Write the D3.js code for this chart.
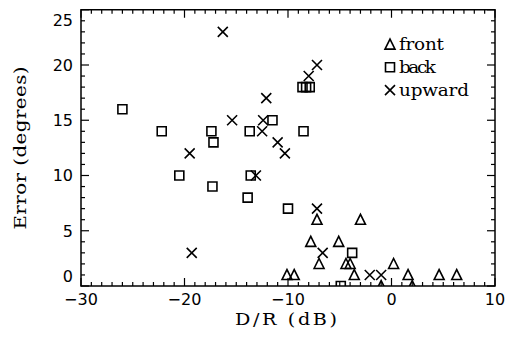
<!DOCTYPE html>
<html>
<head>
<meta charset="utf-8">
<script src="https://cdn.jsdelivr.net/npm/d3@7"></script>
<style>
  body { margin: 0; background: #fff; }
  svg { display: block; }
</style>
</head>
<body>
<svg width="523" height="347"></svg>
<script>
// values: [D/R dB, error degrees]
const front = [
  [-10.1, 1], [-9.4, 1], [-7.2, 6], [-7.8, 4], [-5.1, 4], [-3.0, 6],
  [-7.0, 2], [-4.4, 2], [-4.0, 2], [-3.6, 1], [0.2, 2], [1.6, 1],
  [4.6, 1], [6.3, 1], [-1.0, 0], [2.0, 0]
];
const back = [
  [-26, 16], [-22.2, 14], [-17.4, 14], [-17.2, 13], [-13.7, 14], [-11.5, 15],
  [-8.6, 18], [-8.25, 18], [-7.9, 18], [-8.5, 14], [-20.5, 10], [-17.3, 9],
  [-13.9, 8], [-13.6, 10], [-10.0, 7], [-3.8, 3], [-4.9, 0]
];
const upward = [
  [-16.3, 23], [-7.2, 20], [-8.0, 19], [-12.1, 17], [-15.4, 15], [-12.4, 15],
  [-12.5, 14], [-11.0, 13], [-19.5, 12], [-10.3, 12], [-13.1, 10], [-7.2, 7],
  [-6.65, 3], [-19.3, 3], [-2.1, 1], [-1.0, 1]
];
const legendLabels = ["front", "back", "upward"];
const xTicks = [-30, -20, -10, 0, 10];
const yTicks = [0, 5, 10, 15, 20, 25];

const svg = d3.select("svg");
const pLeft = 81, pRight = 495, pTop = 9.75, pBottom = 286;

const x = d3.scaleLinear().domain([-30, 10]).range([pLeft, pRight]);
const y = d3.scaleLinear().domain([0, 25]).range([pBottom, pTop]);

// symbol paths (centre at 0,0)
const sym = {
  front: "M-5,4.6L0,-5.4L5,4.6Z",
  back: "M-4.5,-4.5H4.5V4.5H-4.5Z",
  upward: "M-5,-5L5,5M-5,5L5,-5"
};

svg.append("clipPath").attr("id", "clip")
  .append("rect")
  .attr("x", pLeft).attr("y", pTop)
  .attr("width", pRight - pLeft).attr("height", pBottom - pTop);

// minor + major ticks, inward on all four sides
const ticks = svg.append("g").attr("stroke", "#000").attr("stroke-width", 1.2);
d3.range(-30, 11, 1).forEach(v => {
  const len = v % 10 === 0 ? 8 : 4;
  ticks.append("line").attr("x1", x(v)).attr("x2", x(v)).attr("y1", pBottom).attr("y2", pBottom - len);
  ticks.append("line").attr("x1", x(v)).attr("x2", x(v)).attr("y1", pTop).attr("y2", pTop + len);
});
d3.range(0, 26, 1).forEach(v => {
  const len = v % 5 === 0 ? 8 : 4;
  ticks.append("line").attr("y1", y(v)).attr("y2", y(v)).attr("x1", pLeft).attr("x2", pLeft + len);
  ticks.append("line").attr("y1", y(v)).attr("y2", y(v)).attr("x1", pRight).attr("x2", pRight - len);
});

svg.append("rect")
  .attr("x", pLeft).attr("y", pTop)
  .attr("width", pRight - pLeft).attr("height", pBottom - pTop)
  .attr("fill", "none").attr("stroke", "#000").attr("stroke-width", 1.5);

// tick labels
svg.append("g").selectAll("text")
  .data(xTicks).enter().append("text")
  .attr("x", d => x(d))
  .attr("y", 305)
  .attr("text-anchor", "middle")
  .style("font-family", "DejaVu Sans")
  .style("font-size", "16px")
  .text(d => d < 0 ? "\u2212" + Math.abs(d) : d);

svg.append("g").selectAll("text")
  .data(yTicks).enter().append("text")
  .attr("x", 73)
  .attr("y", d => y(d) + (d === 25 ? 10 : d === 0 ? -10 : 0))
  .attr("dy", "0.36em")
  .attr("text-anchor", "end")
  .style("font-family", "DejaVu Sans")
  .style("font-size", "16px")
  .text(d => d);

// axis titles (wide serif, like the original plotting font)
svg.append("text")
  .attr("transform", "translate(286,325) scale(1.2,1)")
  .attr("text-anchor", "middle")
  .attr("textLength", 85).attr("lengthAdjust", "spacing")
  .style("font-family", "DejaVu Serif")
  .style("font-size", "16px")
  .text("D/R (dB)");

svg.append("text")
  .attr("transform", "translate(26,148) rotate(-90) scale(1.2,1)")
  .attr("text-anchor", "middle")
  .attr("textLength", 136).attr("lengthAdjust", "spacing")
  .style("font-family", "DejaVu Serif")
  .style("font-size", "16.5px")
  .text("Error (degrees)");

// markers
const marks = svg.append("g").attr("clip-path", "url(#clip)");
[["front", front], ["back", back], ["upward", upward]].forEach(([name, data]) => {
  marks.selectAll("path." + name)
    .data(data).enter().append("path")
    .attr("class", name)
    .attr("transform", d => `translate(${x(d[0])},${y(d[1])})`)
    .attr("d", sym[name])
    .attr("fill", "none")
    .attr("stroke", "#000")
    .attr("stroke-width", 1.6);
});

// legend
const legend = svg.append("g");
legendLabels.forEach((lab, i) => {
  const ly = 44.5 + i * 22.8;
  legend.append("path")
    .attr("transform", `translate(390,${ly})`)
    .attr("d", sym[lab])
    .attr("fill", "none").attr("stroke", "#000").attr("stroke-width", 1.6);
  legend.append("text")
    .attr("transform", `translate(399,${ly + 5.5}) scale(1.15,1)`)
    .attr("textLength", [45, 37, 70][i] / 1.15).attr("lengthAdjust", "spacing")
    .style("font-family", "DejaVu Serif")
    .style("font-size", "16px")
    .text(lab);
});
</script>
</body>
</html>
